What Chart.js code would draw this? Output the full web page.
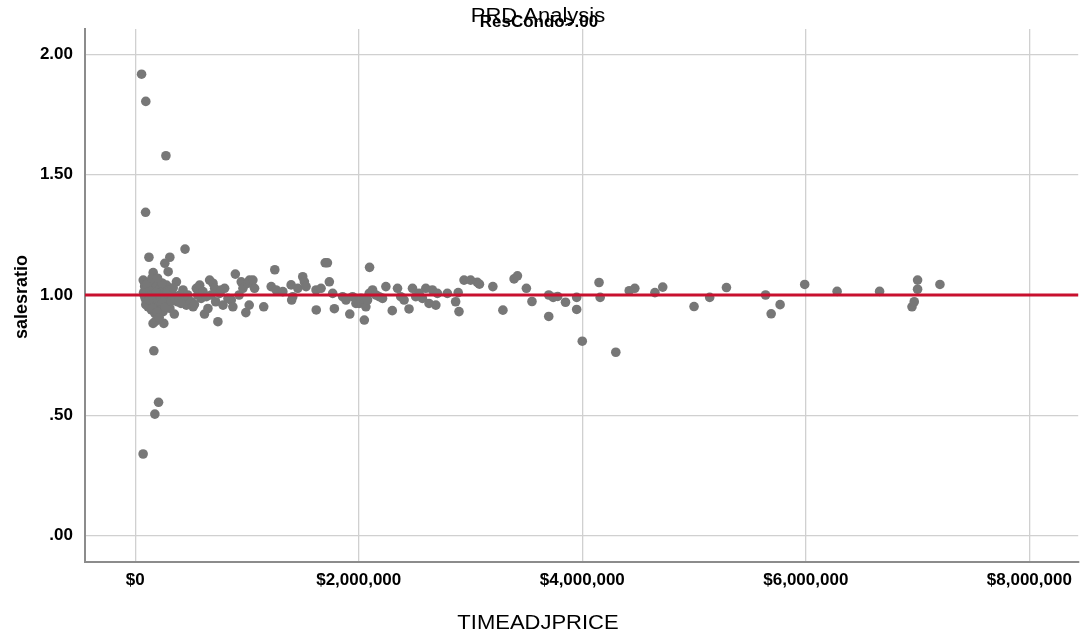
<!DOCTYPE html>
<html>
<head>
<meta charset="utf-8">
<script src="https://cdn.jsdelivr.net/npm/chart.js@4/dist/chart.umd.min.js"></script>
<style>
html,body{margin:0;padding:0;background:#fff;}
#wrap{width:1083px;height:636px;position:relative;}
</style>
</head>
<body>
<div id="wrap"><canvas id="c" width="1083" height="636"></canvas></div>
<script>
// ---- Data ----
const chartTitle = "PRD Analysis";
const chartSubtitle = "ResCondo>.00";
const xTitle = "TIMEADJPRICE";
const yTitle = "salesratio";

const timeAdjPrice = [
  57000, 95000, 275000, 93000, 71000, 176000, 209000, 167000, 123000, 446000,
  310000, 265000, 295000, 161000,
  72000, 87000, 101000, 80000, 90000, 110000, 120000, 131000, 131000, 140000,
  101000, 115000, 145000, 161000, 161000, 170000, 176000, 176000, 190000, 190000,
  200000, 205000, 210000, 220000, 220000, 160000, 256000, 235000, 250000, 250000,
  265000, 280000, 280000, 295000, 310000, 310000, 330000, 350000, 355000, 369000,
  380000, 400000, 428000, 443000, 458000, 470000,
  75000, 85000, 95000, 105000, 125000, 135000, 150000, 155000, 185000, 195000,
  230000, 240000, 245000, 270000, 290000, 320000, 340000, 360000, 390000, 410000,
  180000, 215000, 150000, 200000,
  503000, 518000, 530000, 547000, 560000, 577000, 590000, 607000, 620000, 637000,
  651000, 666000, 680000, 696000, 711000, 720000, 740000, 756000, 770000, 786000,
  800000, 830000, 860000, 874000, 896000, 930000, 949000, 964000, 990000, 1008000,
  1020000, 1023000, 1053000, 1068000, 1150000, 1217000, 1249000, 1261000, 1321000, 1395000,
  1400000, 1410000, 1455000, 1499000, 1514000, 1529000, 1618000, 1620000, 1663000, 1700000,
  1720000, 1737000, 1767000, 1782000, 1856000, 1886000, 1920000, 1945000, 1975000, 2005000,
  2020000, 2050000, 2049000, 2064000, 2079000, 2094000, 2097000, 2124000, 2154000, 2183000,
  2213000, 2243000, 2300000, 2347000, 2376000, 2406000, 2450000, 2481000, 2510000, 2540000,
  2570000, 2600000, 2629000, 2659000, 2690000, 2704000, 2793000, 2867000, 2890000, 2897000,
  2942000, 3001000, 3061000, 3080000, 3200000, 3290000, 3390000, 3420000, 3500000, 3550000,
  3700000, 3740000, 3780000, 3700000, 3850000, 3950000, 3950000, 4000000, 4150000, 4160000,
  4300000, 4420000, 4470000, 4650000, 4720000, 5000000, 5140000, 5290000, 5640000, 5690000,
  5770000, 5990000, 6280000, 6660000, 6950000, 6970000, 7000000, 7000000, 7200000
];

const salesRatio = [
  1.918, 1.805, 1.579, 1.344, 0.339, 0.505, 0.554, 0.768, 1.157, 1.191,
  1.157, 1.132, 1.097, 1.093,
  1.062, 1.041, 1.021, 1.000, 0.986, 1.028, 1.007, 1.055, 0.993, 0.972,
  0.972, 0.951, 0.938, 0.965, 1.041, 1.014, 0.993, 0.924, 1.035, 0.979,
  0.951, 0.910, 1.000, 1.028, 0.938, 0.882, 0.882, 0.965, 0.931, 1.014,
  1.000, 0.979, 1.041, 0.958, 1.021, 0.945, 1.000, 0.921, 0.993, 1.055,
  0.972, 1.000, 1.021, 0.979, 0.958, 1.000,
  1.010, 1.035, 0.960, 1.045, 0.980, 1.015, 1.000, 0.945, 1.010, 0.930,
  0.990, 1.050, 0.970, 0.950, 1.010, 0.975, 1.030, 0.985, 0.990, 0.965,
  0.890, 0.905, 1.070, 1.070,
  0.972, 0.951, 0.961, 1.028, 1.000, 1.041, 0.986, 1.014, 0.921, 0.993,
  0.944, 1.062, 1.000, 1.049, 1.028, 0.972, 0.889, 1.007, 1.021, 0.958,
  1.028, 0.986, 0.979, 0.951, 1.087, 1.000, 1.055, 1.028, 0.927, 1.049,
  0.958, 1.062, 1.062, 1.028, 0.951, 1.035, 1.105, 1.021, 1.014, 1.042,
  0.979, 0.993, 1.028, 1.076, 1.055, 1.035, 1.021, 0.938, 1.028, 1.134,
  1.134, 1.055, 1.007, 0.943, 0.993, 0.979, 0.921, 0.993, 0.965, 0.965,
  0.986, 0.896, 0.965, 0.951, 0.979, 1.007, 1.115, 1.021, 1.000, 0.993,
  0.986, 1.035, 0.935, 1.028, 0.993, 0.979, 0.942, 1.028, 0.993, 1.007,
  0.986, 1.028, 0.965, 1.021, 0.958, 1.007, 1.007, 0.972, 1.010, 0.931,
  1.062, 1.062, 1.053, 1.045, 1.035, 0.937, 1.067, 1.080, 1.028, 0.973,
  1.000, 0.990, 0.994, 0.911, 0.970, 0.940, 0.990, 0.808, 1.052, 0.990,
  0.762, 1.018, 1.028, 1.010, 1.033, 0.952, 0.990, 1.031, 1.000, 0.922,
  0.960, 1.044, 1.015, 1.015, 0.951, 0.972, 1.024, 1.062, 1.044
];

const referenceRatio = 1.0;
const xTickValues = [0, 2000000, 4000000, 6000000, 8000000];
const yTickValues = [0, 0.5, 1.0, 1.5, 2.0];
const xRange = [-449000, 8437000];
const yRange = [-0.110, 2.106];

// ---- Build chart ----
const points = timeAdjPrice.map((v, i) => ({ x: v, y: salesRatio[i] }));

const refLinePlugin = {
  id: 'refLine',
  afterDatasetsDraw(chart) {
    const { ctx, chartArea } = chart;
    const y = chart.scales.y.getPixelForValue(referenceRatio);
    ctx.save();
    ctx.strokeStyle = 'rgb(200,16,46)';
    ctx.lineWidth = 3;
    ctx.beginPath();
    ctx.moveTo(chartArea.left, y);
    ctx.lineTo(chartArea.right, y);
    ctx.stroke();
    ctx.restore();
  },
  afterDraw(chart) {
    const { ctx } = chart;
    const cx = 538;
    ctx.save();
    ctx.fillStyle = '#000';
    ctx.textAlign = 'center';
    ctx.textBaseline = 'alphabetic';
    ctx.save();
    ctx.translate(cx, 22);
    ctx.scale(1.1, 1);
    ctx.font = '20px "Liberation Sans", Arial, sans-serif';
    ctx.fillText(chartTitle, 0, 0);
    ctx.restore();
    ctx.save();
    ctx.translate(cx + 1, 27);
    ctx.scale(1.06, 1);
    ctx.font = 'bold 16px "Liberation Sans", Arial, sans-serif';
    ctx.fillText(chartSubtitle, 0, 0);
    ctx.restore();
    ctx.save();
    ctx.translate(cx, 629);
    ctx.scale(1.1, 1);
    ctx.font = '20px "Liberation Sans", Arial, sans-serif';
    ctx.fillText(xTitle, 0, 0);
    ctx.restore();
    ctx.save();
    ctx.translate(27, 297);
    ctx.rotate(-Math.PI / 2);
    ctx.font = 'bold 18px "Liberation Sans", Arial, sans-serif';
    ctx.fillText(yTitle, 0, 0);
    ctx.restore();
    ctx.restore();
  }
};

new Chart(document.getElementById('c'), {
  type: 'scatter',
  data: {
    datasets: [{
      label: yTitle,
      data: points,
      backgroundColor: '#777777',
      borderColor: '#777777',
      borderWidth: 0,
      pointRadius: 4.8,
      pointHoverRadius: 4.8
    }]
  },
  options: {
    responsive: false,
    animation: false,
    devicePixelRatio: 1,
    layout: { padding: { top: 29, right: 0, left: 0, bottom: 0 } },
    plugins: {
      legend: { display: false },
      title: { display: false },
      tooltip: { enabled: false }
    },
    scales: {
      x: {
        type: 'linear',
        min: xRange[0],
        max: xRange[1],
        afterBuildTicks(scale) { scale.ticks = xTickValues.map(v => ({ value: v })); },
        afterFit(scale) { scale.height = 74; scale.paddingLeft = 0; scale.paddingRight = 2; },
        grid: { color: '#d0d0d0', lineWidth: 1.3, drawTicks: false },
        border: { display: true, color: '#8c8c8c', width: 2 },
        ticks: {
          padding: 8,
          maxRotation: 0,
          autoSkip: false,
          color: '#000',
          font: { family: '"Liberation Sans", Arial, sans-serif', size: 17, weight: 'bold' },
          callback(v) { return '$' + Number(v).toLocaleString('en-US'); }
        }
      },
      y: {
        type: 'linear',
        min: yRange[0],
        max: yRange[1],
        afterBuildTicks(scale) { scale.ticks = yTickValues.map(v => ({ value: v })); },
        afterFit(scale) { scale.width = 85; },
        grid: { color: '#d0d0d0', lineWidth: 1.3, drawTicks: false },
        border: { display: true, color: '#8c8c8c', width: 2 },
        ticks: {
          padding: 12,
          autoSkip: false,
          color: '#000',
          font: { family: '"Liberation Sans", Arial, sans-serif', size: 17, weight: 'bold' },
          callback(v) {
            const s = Number(v).toFixed(2);
            return s.startsWith('0') ? s.slice(1) : s;
          }
        }
      }
    }
  },
  plugins: [refLinePlugin]
});
</script>
</body>
</html>
